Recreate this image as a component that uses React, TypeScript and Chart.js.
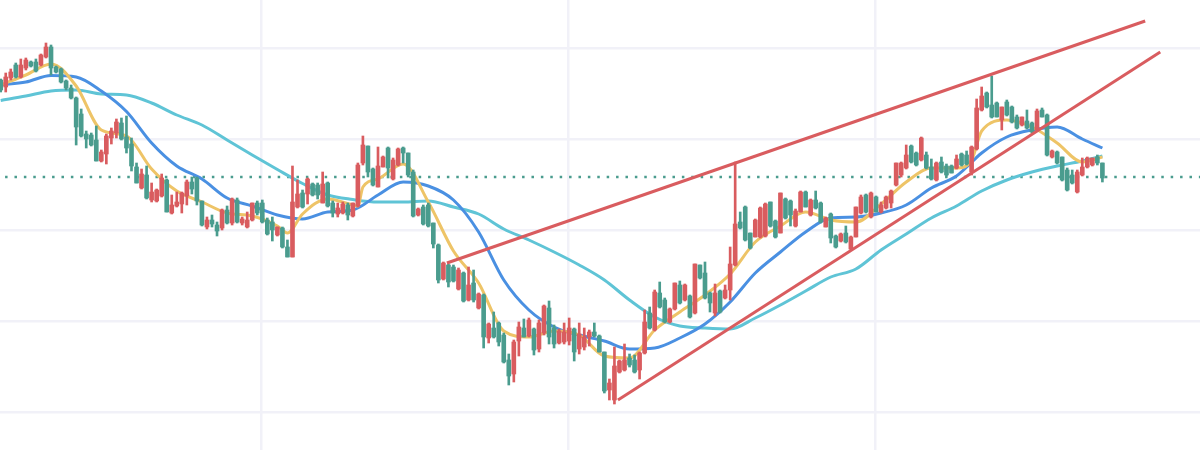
import { useEffect, useRef } from 'react';
import Chart from 'chart.js/auto';

const highs = [
  371, 377, 381, 387, 391, 392, 389, 391, 396, 407,
  405, 384, 382, 370, 365, 353, 341, 319, 317, 324,
  300, 316, 322, 331, 332, 334, 312, 287, 281, 284,
  267, 261, 276, 271, 255, 258, 258, 270, 273, 273,
  249, 233, 235, 228, 241, 244, 252, 252, 233, 238,
  247, 249, 250, 232, 233, 223, 223, 210, 284, 270,
  260, 272, 267, 267, 278, 268, 249, 247, 248, 247,
  247, 287, 314, 304, 282, 303, 294, 303, 292, 302,
  303, 297, 280, 242, 245, 247, 227, 206, 188, 186,
  185, 182, 178, 183, 180, 157, 156, 127, 138, 128,
  117, 96, 110, 128, 131, 132, 122, 130, 145, 149,
  125, 121, 127, 132, 122, 127, 122, 120, 127, 115,
  98, 71, 103, 90, 106, 96, 95, 98, 140, 143,
  160, 168, 152, 142, 167, 169, 166, 155, 186, 185,
  188, 158, 166, 160, 165, 203, 288, 238, 244, 217,
  231, 243, 247, 248, 230, 257, 252, 250, 241, 259,
  259, 251, 259, 248, 233, 237, 215, 217, 224, 214,
  243, 255, 256, 258, 254, 248, 254, 260, 287, 288,
  305, 305, 298, 313, 298, 291, 288, 293, 286, 285,
  295, 297, 299, 304, 351, 363, 358, 374, 348, 343,
  350, 344, 335, 333, 340, 328, 341, 342, 336, 300,
  299, 293, 282, 280, 280, 292, 293, 292, 295, 287,
];
const lows = [
  358, 358, 370, 372, 372, 380, 383, 378, 384, 392,
  375, 377, 367, 360, 351, 305, 313, 302, 304, 289,
  288, 286, 306, 312, 310, 297, 279, 267, 261, 251,
  248, 248, 253, 238, 236, 243, 237, 245, 256, 245,
  224, 221, 223, 214, 220, 226, 225, 227, 225, 222,
  229, 235, 227, 215, 209, 214, 202, 193, 193, 242,
  242, 246, 254, 251, 247, 243, 233, 233, 236, 230,
  233, 243, 285, 273, 264, 263, 283, 272, 270, 284,
  287, 273, 233, 234, 225, 223, 202, 167, 170, 163,
  168, 160, 148, 149, 148, 141, 102, 107, 112, 104,
  87, 65, 68, 94, 113, 113, 95, 98, 115, 106,
  102, 106, 106, 105, 89, 96, 100, 104, 113, 98,
  57, 50, 46, 77, 79, 83, 77, 71, 96, 121,
  119, 142, 127, 127, 140, 146, 149, 132, 136, 171,
  151, 138, 134, 137, 151, 150, 184, 221, 209, 201,
  213, 212, 213, 223, 212, 217, 231, 224, 223, 238,
  243, 234, 241, 227, 223, 207, 202, 208, 207, 200,
  213, 236, 237, 232, 238, 237, 241, 242, 264, 273,
  281, 287, 284, 289, 281, 270, 269, 277, 274, 277,
  281, 284, 285, 275, 300, 339, 342, 332, 333, 320,
  334, 327, 321, 324, 321, 317, 319, 333, 294, 292,
  286, 269, 259, 266, 257, 274, 282, 284, 285, 268,
];
const opens = [
  370, 363, 372, 385, 373, 382, 388, 388, 385, 393,
  403, 383, 381, 369, 362, 352, 336, 316, 315, 310,
  289, 296, 312, 317, 327, 313, 306, 283, 262, 275,
  250, 249, 254, 270, 237, 244, 246, 254, 268, 272,
  249, 223, 230, 225, 222, 240, 227, 250, 227, 223,
  230, 247, 247, 230, 228, 215, 222, 203, 193, 243,
  257, 256, 266, 265, 247, 267, 247, 236, 237, 245,
  234, 244, 287, 304, 281, 263, 283, 302, 271, 285,
  302, 297, 278, 235, 243, 245, 227, 205, 171, 185,
  183, 161, 177, 150, 167, 142, 155, 112, 122, 127,
  115, 90, 76, 109, 122, 114, 121, 101, 117, 142,
  122, 107, 108, 109, 121, 101, 103, 113, 118, 114,
  98, 60, 50, 78, 80, 92, 90, 80, 97, 137,
  120, 157, 150, 128, 141, 165, 150, 154, 137, 185,
  177, 157, 137, 159, 152, 160, 185, 228, 243, 217,
  213, 213, 214, 248, 229, 217, 251, 249, 224, 238,
  258, 235, 250, 247, 223, 236, 214, 209, 217, 201,
  213, 237, 255, 233, 253, 238, 242, 247, 265, 275,
  282, 304, 297, 290, 295, 283, 270, 288, 284, 284,
  282, 296, 295, 278, 301, 340, 357, 345, 347, 330,
  348, 343, 333, 325, 329, 327, 320, 340, 335, 293,
  298, 293, 280, 275, 258, 275, 283, 285, 293, 287,
];
const closes = [
  360, 373, 378, 373, 385, 390, 384, 379, 395, 403,
  382, 378, 368, 362, 352, 323, 314, 311, 305, 289,
  298, 314, 319, 328, 311, 302, 284, 267, 276, 252,
  258, 260, 272, 238, 245, 248, 257, 268, 261, 249,
  225, 230, 226, 219, 240, 227, 251, 228, 231, 230,
  247, 237, 228, 216, 220, 223, 203, 193, 248, 256,
  243, 271, 255, 255, 266, 244, 237, 242, 246, 235,
  247, 285, 305, 278, 265, 284, 293, 282, 290, 301,
  297, 275, 234, 241, 226, 224, 206, 170, 187, 168,
  169, 180, 149, 165, 150, 156, 113, 126, 113, 108,
  88, 74, 108, 123, 113, 130, 100, 127, 144, 113,
  106, 119, 118, 122, 98, 116, 113, 118, 114, 98,
  59, 67, 84, 89, 90, 85, 78, 97, 128, 122,
  158, 143, 128, 141, 167, 147, 165, 133, 186, 172,
  152, 147, 157, 138, 160, 186, 226, 222, 210, 202,
  230, 242, 246, 224, 213, 257, 232, 235, 239, 258,
  243, 250, 242, 228, 232, 212, 203, 216, 208, 213,
  243, 253, 238, 257, 238, 245, 253, 259, 287, 287,
  295, 288, 285, 312, 282, 271, 287, 278, 275, 277,
  291, 285, 286, 303, 342, 354, 343, 333, 333, 343,
  335, 328, 322, 333, 322, 318, 339, 333, 295, 299,
  287, 270, 260, 267, 278, 283, 292, 292, 287, 272,
];

// moving averages, read every few bars
const maBars = [
  0, 5, 10, 15, 20, 25, 30, 35, 40, 45, 50, 55, 60, 65, 70, 75, 80, 85, 90, 95, 100, 105,
  110, 115, 120, 125, 130, 135, 140, 145, 150, 155, 160, 165, 170, 175, 180, 185, 190, 195,
  200, 205, 210, 215, 219,
];
const maMid = [
  365, 368, 374.5, 373, 359, 338.5, 307, 284, 271, 252, 244, 235, 231, 238, 240, 255, 268, 264, 250, 218, 170, 140,
  123, 115, 109, 101, 102, 112, 126, 148, 177, 198, 218, 232, 233, 237, 245, 262, 274, 297,
  313, 320, 323, 311, 302,
];
const maSlow = [
  349.5, 354, 359, 360, 356, 355, 347, 335, 325, 310, 295, 280.5, 266.5, 255, 250.5, 248, 248, 249, 243, 236, 221, 210,
  198, 185, 170, 150, 133, 124, 122, 121, 132, 145, 159, 173, 181, 200, 216, 232, 244, 259,
  270, 278, 284, 289, 294,
];
const maFastBars = [
  0, 5, 10, 15, 20, 25, 30, 35, 40, 45, 50, 55, 57, 60, 65, 70, 71, 72, 75, 80, 85, 90, 95, 100, 105,
  110, 115, 120, 125, 130, 135, 140, 145, 150, 155, 160, 165, 170, 175, 180, 185, 190, 193, 195,
  200, 205, 210, 215, 219,
];
const maFast = [
  365, 375, 386, 364, 320, 314, 281, 259, 248, 237, 234, 224, 217, 236, 251, 245, 244, 263, 271, 286, 248, 199, 167, 119, 113,
  119, 115, 94, 92, 120, 138, 155, 176, 208, 224, 238, 230, 228, 246, 268, 282, 282, 290, 319,
  330, 323, 307, 288, 293,
];

const resistanceBars = [88.7, 227.5];
const resistance = [187, 429];
const supportBars = [122.7, 230.5];
const support = [50, 398];
const lastPrice = 273;

const priceGrid = [38, 129, 220, 311, 402];
const timeGrid = [51.75, 112.8, 173.8];

const RED = '#d95c5f';
const GREEN = '#4a9c8e';

const candleColors = closes.map((c, i) => (c >= opens[i] ? RED : GREEN));
const pairs = (xs: number[], ys: number[]) => xs.map((x, i) => ({ x, y: ys[i] }));

function maLine(label: string, xs: number[], ys: number[], color: string, order: number) {
  return {
    type: 'line' as const,
    label,
    data: pairs(xs, ys),
    borderColor: color,
    borderWidth: 3,
    pointRadius: 0,
    cubicInterpolationMode: 'monotone' as const,
    order,
  };
}

export default function App() {
  const canvasRef = useRef<HTMLCanvasElement>(null);

  useEffect(() => {
    const canvas = canvasRef.current;
    if (!canvas) return;
    const chart = new Chart(canvas, {
      data: {
        datasets: [
          {
            type: 'line',
            label: 'resistance',
            data: pairs(resistanceBars, resistance),
            borderColor: RED,
            borderWidth: 3,
            pointRadius: 0,
            order: 0,
          },
          {
            type: 'line',
            label: 'support',
            data: pairs(supportBars, support),
            borderColor: RED,
            borderWidth: 3,
            pointRadius: 0,
            order: 0,
          },
          {
            type: 'bar',
            label: 'body',
            data: opens.map((o, i) => ({ x: i, y: [o, closes[i]] })) as any,
            backgroundColor: candleColors,
            barThickness: 4,
            grouped: false,
            order: 1,
          },
          {
            type: 'bar',
            label: 'wick',
            data: highs.map((h, i) => ({ x: i, y: [lows[i], h] })) as any,
            backgroundColor: candleColors,
            barThickness: 2,
            grouped: false,
            order: 2,
          },
          maLine('MA5', maFastBars, maFast, '#eec467', 3),
          maLine('MA20', maBars, maMid, '#4a90e2', 4),
          maLine('MA60', maBars, maSlow, '#5fc4d6', 5),
          {
            type: 'line',
            label: 'last',
            data: [
              { x: -1, y: lastPrice },
              { x: 240, y: lastPrice },
            ],
            borderColor: GREEN,
            borderWidth: 2.5,
            borderDash: [2.5, 6.9],
            pointRadius: 0,
            order: 6,
          },
        ],
      },
      options: {
        responsive: false,
        animation: false,
        layout: { padding: 0 },
        plugins: { legend: { display: false }, tooltip: { enabled: false } },
        scales: {
          x: {
            type: 'linear',
            offset: false,
            min: -0.14,
            max: 238.4,
            afterBuildTicks: (scale) => {
              scale.ticks = timeGrid.map((value) => ({ value }));
            },
            ticks: { display: false },
            border: { display: false },
            grid: { color: '#f1f1f8', lineWidth: 2.5, drawTicks: false, offset: false },
          },
          y: {
            min: 0,
            max: 450,
            afterBuildTicks: (scale) => {
              scale.ticks = priceGrid.map((value) => ({ value }));
            },
            ticks: { display: false },
            border: { display: false },
            grid: { color: '#f1f1f8', lineWidth: 2.5, drawTicks: false },
          },
        },
      },
    });
    return () => {
      chart.destroy();
    };
  }, []);

  return (
    <div style={{ position: 'fixed', left: 0, top: 0, width: 1200, height: 450, background: '#fff' }}>
      <canvas ref={canvasRef} width={1200} height={450} style={{ display: 'block' }} />
    </div>
  );
}
